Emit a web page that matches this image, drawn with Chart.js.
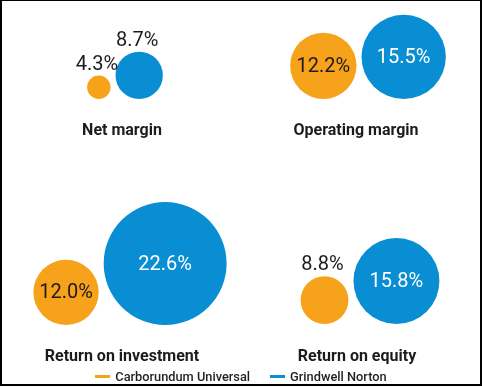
<!DOCTYPE html>
<html>
<head>
<meta charset="utf-8">
<script src="https://cdn.jsdelivr.net/npm/chart.js@4"></script>
<style>
    body { margin: 0; background: #fff; }
    #wrap { position: relative; width: 482px; height: 387px; font-family: Roboto, "DejaVu Sans", sans-serif; }
    #bubbleChart { position: absolute; left: 0; top: 0; }
    #frame { position: absolute; left: 0; top: 0; width: 478px; height: 383px; border: 2px solid #000; border-top-width: 1px; pointer-events: none; }
    #legend { position: absolute; left: 0; width: 482px; top: 369px; text-align: center; font-size: 12.8px; font-weight: 500; color: #231f20; white-space: nowrap; }
    #legend span.item { display: inline-block; margin: 0 10px; }
    #legend span.swatch { display: inline-block; width: 15px; height: 3px; vertical-align: middle; margin-right: 5px; position: relative; top: -1px; }
</style>
</head>
<body>
<div id="wrap">
    <canvas id="bubbleChart" width="482" height="387"></canvas>
    <div id="legend"></div>
    <div id="frame"></div>
</div>
<script>
// Chart data
const categories = ['Net margin', 'Operating margin', 'Return on investment', 'Return on equity'];
const companies = ['Carborundum Universal', 'Grindwell Norton'];
const carborundum = [4.3, 12.2, 12.0, 8.8];
const grindwell = [8.7, 15.5, 22.6, 15.8];
const colors = ['#F7A21B', '#0A8ED3'];

// Layout (pixels)
const pxPerPct = 2.72;
const gap = 5;
const pairCenters = [125, 368, 130, 370];
const rowBottoms = [99, 99, 325, 324];
const titleX = [122, 356, 122, 357];
const titleY = [131, 131, 357, 357];
const font = 'Roboto, "DejaVu Sans", sans-serif';

const series = [carborundum, grindwell];

// Place each pair side by side, bottom aligned, radius proportional to value
function buildPoints(s) {
    return categories.map(function(cat, i) {
        const rO = carborundum[i] * pxPerPct;
        const rB = grindwell[i] * pxPerPct;
        const left = pairCenters[i] - (2 * rO + gap + 2 * rB) / 2;
        const r = series[s][i] * pxPerPct;
        const x = s === 0 ? left + rO : left + 2 * rO + gap + rB;
        return { x: x, y: rowBottoms[i] - r, r: r, v: series[s][i] };
    });
}

// Value labels and panel titles
const labelPlugin = {
    id: 'bubbleLabels',
    afterDatasetsDraw: function(chart) {
        const ctx = chart.ctx;
        ctx.save();
        ctx.textAlign = 'center';
        chart.data.datasets.forEach(function(ds, s) {
            const meta = chart.getDatasetMeta(s);
            meta.data.forEach(function(el, i) {
                const r = ds.data[i].r;
                const text = ds.data[i].v.toFixed(1) + '%';
                ctx.font = '20px ' + font;
                if (r >= 30) {
                    ctx.fillStyle = s === 0 ? '#1e1b1c' : '#ffffff';
                    ctx.textBaseline = 'middle';
                    ctx.fillText(text, el.x, el.y + 1);
                } else {
                    ctx.fillStyle = '#1e1b1c';
                    ctx.textBaseline = 'alphabetic';
                    ctx.fillText(text, el.x - 2, el.y - r - 6);
                }
            });
        });
        ctx.fillStyle = '#1e1b1c';
        ctx.font = 'bold 16px ' + font;
        ctx.textBaseline = 'middle';
        categories.forEach(function(cat, i) {
            ctx.fillText(cat, titleX[i], titleY[i]);
        });
        ctx.restore();
    }
};

const bubbleChart = new Chart(document.getElementById('bubbleChart'), {
    type: 'bubble',
    data: {
        datasets: companies.map(function(name, s) {
            return {
                label: name,
                data: buildPoints(s),
                backgroundColor: colors[s],
                borderWidth: 0,
                hoverRadius: 0
            };
        })
    },
    options: {
        responsive: false,
        animation: false,
        events: [],
        layout: { padding: 0, autoPadding: false },
        plugins: {
            legend: { display: false },
            tooltip: { enabled: false }
        },
        scales: {
            x: { type: 'linear', display: false, min: 0, max: 482 },
            y: { type: 'linear', display: false, min: 0, max: 387, reverse: true }
        }
    },
    plugins: [labelPlugin]
});

// Legend
const legend = document.getElementById('legend');
companies.forEach(function(name, s) {
    legend.innerHTML += '<span class="item"><span class="swatch" style="background:' + colors[s] + '"></span>' + name + '</span>';
});
</script>
</body>
</html>
